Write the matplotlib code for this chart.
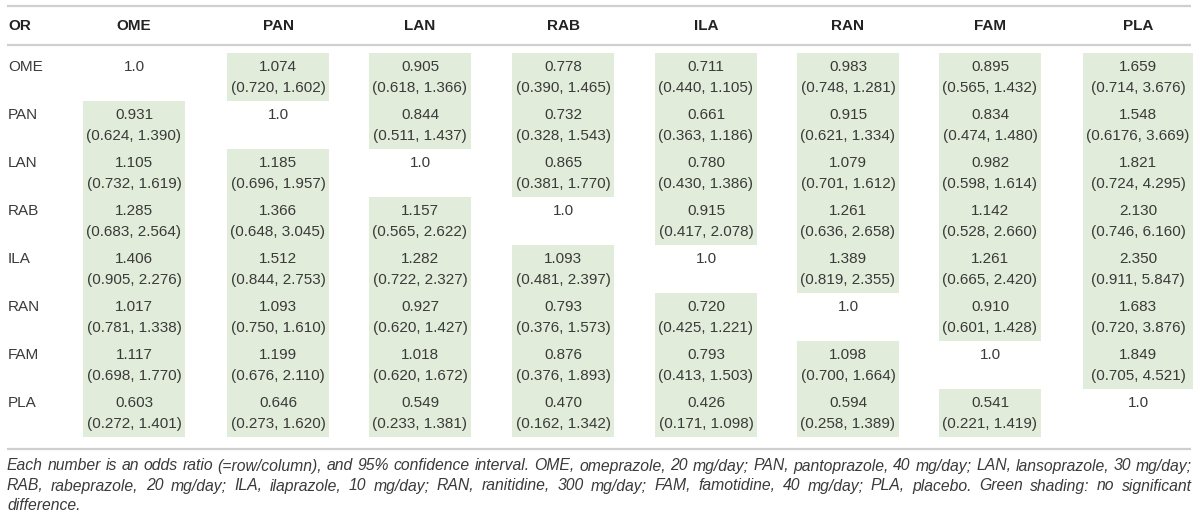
import matplotlib
matplotlib.use('Agg')
import matplotlib.pyplot as plt
from matplotlib.patches import Rectangle

# drugs (row = numerator, column = denominator)
drugs = ['OME', 'PAN', 'LAN', 'RAB', 'ILA', 'RAN', 'FAM', 'PLA']

# odds ratio, row/column
odds = [
    [1.0,   1.074, 0.905, 0.778, 0.711, 0.983, 0.895, 1.659],
    [0.931, 1.0,   0.844, 0.732, 0.661, 0.915, 0.834, 1.548],
    [1.105, 1.185, 1.0,   0.865, 0.780, 1.079, 0.982, 1.821],
    [1.285, 1.366, 1.157, 1.0,   0.915, 1.261, 1.142, 2.130],
    [1.406, 1.512, 1.282, 1.093, 1.0,   1.389, 1.261, 2.350],
    [1.017, 1.093, 0.927, 0.793, 0.720, 1.0,   0.910, 1.683],
    [1.117, 1.199, 1.018, 0.876, 0.793, 1.098, 1.0,   1.849],
    [0.603, 0.646, 0.549, 0.470, 0.426, 0.594, 0.541, 1.0],
]
# 95% CI lower bound (None on the diagonal)
ci_low = [
    [None,  '0.720', '0.618', '0.390', '0.440', '0.748', '0.565', '0.714'],
    ['0.624', None,  '0.511', '0.328', '0.363', '0.621', '0.474', '0.6176'],
    ['0.732', '0.696', None,  '0.381', '0.430', '0.701', '0.598', '0.724'],
    ['0.683', '0.648', '0.565', None,  '0.417', '0.636', '0.528', '0.746'],
    ['0.905', '0.844', '0.722', '0.481', None,  '0.819', '0.665', '0.911'],
    ['0.781', '0.750', '0.620', '0.376', '0.425', None,  '0.601', '0.720'],
    ['0.698', '0.676', '0.620', '0.376', '0.413', '0.700', None,  '0.705'],
    ['0.272', '0.273', '0.233', '0.162', '0.171', '0.258', '0.221', None],
]
# 95% CI upper bound
ci_high = [
    [None,  '1.602', '1.366', '1.465', '1.105', '1.281', '1.432', '3.676'],
    ['1.390', None,  '1.437', '1.543', '1.186', '1.334', '1.480', '3.669'],
    ['1.619', '1.957', None,  '1.770', '1.386', '1.612', '1.614', '4.295'],
    ['2.564', '3.045', '2.622', None,  '2.078', '2.658', '2.660', '6.160'],
    ['2.276', '2.753', '2.327', '2.397', None,  '2.355', '2.420', '5.847'],
    ['1.338', '1.610', '1.427', '1.573', '1.221', None,  '1.428', '3.876'],
    ['1.770', '2.110', '1.672', '1.893', '1.503', '1.664', None,  '4.521'],
    ['1.401', '1.620', '1.381', '1.342', '1.098', '1.389', '1.419', None],
]

# footnote, broken as in the original
footnote_lines = [
    'Each number is an odds ratio (=row/column), and 95% confidence interval. '
    'OME, omeprazole, 20 mg/day; PAN, pantoprazole, 40 mg/day; LAN, lansoprazole, 30 mg/day;',
    'RAB, rabeprazole, 20 mg/day; ILA, ilaprazole, 10 mg/day; RAN, ranitidine, 300 mg/day; '
    'FAM, famotidine, 40 mg/day; PLA, placebo. Green shading: no significant',
    'difference.',
]

# layout (pixels)
col_x = [134, 278, 420, 563, 706, 848, 990, 1138]
box_w = [102, 102, 102, 102, 102, 102, 102, 110]
row_top0 = 53
row_h = 48
left, right = 7, 1192
green = '#e2ecda'
txt = '#3a3a3a'
rule = '#cfcfcf'
font = 'Liberation Sans'

fig = plt.figure(figsize=(12, 5.2), dpi=100)
ax = fig.add_axes([0, 0, 1, 1])
ax.set_xlim(0, 1200)
ax.set_ylim(520, 0)
ax.axis('off')

# rules
for y in [6, 45, 449]:
    ax.plot([left, right - 1], [y, y], color=rule, lw=1.6, solid_capstyle='butt')

# header
ax.text(8, 26, 'OR', ha='left', va='center', fontsize=11, fontweight='bold',
        family=font, color='#222222')
for j, d in enumerate(drugs):
    ax.text(col_x[j], 26, d, ha='center', va='center', fontsize=11,
            fontweight='bold', family=font, color='#222222')

# body
for i, r in enumerate(drugs):
    top = row_top0 + i * row_h
    ax.text(8, top + 14, r, ha='left', va='center', fontsize=11, family=font, color=txt)
    for j in range(len(drugs)):
        if i == j:
            ax.text(col_x[j], top + 14, '%.1f' % odds[i][j], ha='center', va='center',
                    fontsize=11, family=font, color=txt)
            continue
        lo, hi = float(ci_low[i][j]), float(ci_high[i][j])
        if lo < 1 < hi:  # no significant difference
            ax.add_patch(Rectangle((col_x[j] - box_w[j] / 2, top), box_w[j], row_h,
                                   facecolor=green, edgecolor='none', zorder=0))
        ax.text(col_x[j], top + 14, '%.3f' % odds[i][j], ha='center', va='center',
                fontsize=11, family=font, color=txt)
        ax.text(col_x[j], top + 35, '(%s, %s)' % (ci_low[i][j], ci_high[i][j]),
                ha='center', va='center', fontsize=11, family=font, color=txt)

# footnote, justified like the journal layout
fig.canvas.draw()
renderer = fig.canvas.get_renderer()
fn_kw = dict(fontsize=11.3, family=font, style='italic', color=txt, va='center', ha='left')


def text_width(s):
    t = ax.text(0, 0, s, **fn_kw)
    wd = t.get_window_extent(renderer).width
    t.remove()
    return wd


space = text_width('a a') - text_width('aa')
avail = right - left
for k, line in enumerate(footnote_lines):
    y = 466 + k * 20
    words = line.split(' ')
    widths = [text_width(w) for w in words]
    last = k == len(footnote_lines) - 1
    gap = space if last or len(words) < 2 else (avail - sum(widths)) / (len(words) - 1)
    x = left
    for w, wd in zip(words, widths):
        ax.text(x, y, w, **fn_kw)
        x += wd + gap

plt.savefig('out.png', dpi=100)
